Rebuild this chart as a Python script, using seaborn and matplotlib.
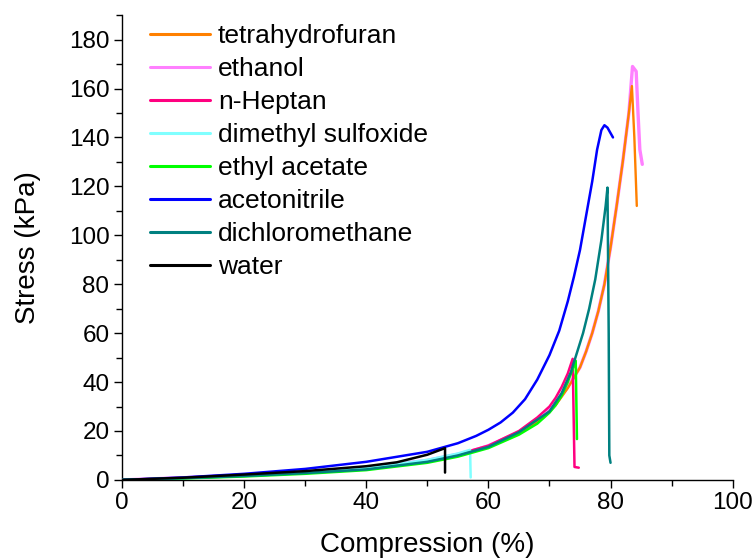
import numpy as np
import pandas as pd
import matplotlib
matplotlib.use("Agg")
import matplotlib.pyplot as plt
import seaborn as sns
from matplotlib.ticker import MultipleLocator

# compression (%) / stress (kPa)
thf_x = [0, 10, 20, 30, 40, 50, 55, 60, 65, 67, 69, 71, 73, 75, 76, 77, 78, 79, 80, 81, 82, 83, 83.5, 83.9, 84.3]
thf_y = [0, 0.8, 1.8, 3.0, 4.5, 7.5, 10, 13.5, 19, 22, 25.5, 30.5, 37.5, 46, 52.5, 60, 69, 80, 95, 112, 130, 150, 161, 140, 112]

eth_x = [0, 10, 20, 30, 40, 50, 55, 57.5, 60, 65, 67, 69, 71, 73, 75, 76, 77, 78, 79, 80, 81, 82, 83, 83.6, 84.2, 84.5, 84.8, 85.2]
eth_y = [0, 0.9, 2.0, 3.3, 5.0, 8.0, 10.5, 12, 14, 19.5, 22.5, 26, 31, 38, 46, 52.5, 60, 69, 80, 95, 112, 130, 150, 169, 167, 150, 135, 129]

hep_x = [0, 10, 20, 30, 40, 50, 55, 60, 65, 68, 70, 71, 72, 73, 73.8, 74.0, 74.1, 74.8]
hep_y = [0, 0.8, 1.8, 3.0, 4.6, 7.8, 10.5, 14, 20, 25.5, 30, 33.5, 38, 43.5, 49.5, 20, 5.3, 5]

dmso_x = [0, 10, 20, 30, 40, 50, 55, 57.0, 57.1]
dmso_y = [0, 0.8, 1.8, 3.1, 4.8, 8.2, 10.8, 12.3, 1]

ea_x = [0, 10, 20, 30, 40, 50, 55, 60, 65, 68, 70, 71, 72, 73, 74.3, 74.5]
ea_y = [0, 0.6, 1.4, 2.5, 4.0, 7.0, 9.5, 13, 18.5, 23, 27.5, 30.5, 34.5, 40, 48.7, 16.7]

acn_x = [0, 10, 20, 30, 40, 50, 55, 58, 60, 62, 64, 66, 68, 70, 71.6, 73, 74, 75, 76, 77, 77.8, 78.5, 79, 79.5, 80.4]
acn_y = [0, 1.0, 2.5, 4.5, 7.4, 11.5, 15, 18, 20.5, 23.5, 27.5, 33, 41, 51, 61, 73, 83, 94, 108, 122, 135, 143, 145, 144, 140]

dcm_x = [0, 10, 20, 30, 40, 50, 55, 60, 65, 70, 72, 73.5, 74.5, 75.5, 76.5, 77.5, 78.5, 79.2, 79.5, 79.7, 79.8, 80.0]
dcm_y = [0, 0.7, 1.6, 2.8, 4.3, 7.4, 10, 13.5, 19.5, 28, 35.5, 44, 52, 60, 70, 82, 98, 112, 119.5, 60, 10, 7]

wat_x = [0, 10, 20, 30, 40, 45, 50, 52.9, 52.9]
wat_y = [0, 0.9, 2.2, 3.6, 5.6, 7.2, 10.3, 13, 3]

labels = ["tetrahydrofuran", "ethanol", "n-Heptan", "dimethyl sulfoxide",
          "ethyl acetate", "acetonitrile", "dichloromethane", "water"]
colors = ["#FF8000", "#FF80FF", "#FF0080", "#80FFFF",
          "#00FF00", "#0000FF", "#008080", "#000000"]
series = [(thf_x, thf_y), (eth_x, eth_y), (hep_x, hep_y), (dmso_x, dmso_y),
          (ea_x, ea_y), (acn_x, acn_y), (dcm_x, dcm_y), (wat_x, wat_y)]
zorders = [3, 2, 4, 5, 6, 7, 8, 9]
widths = [1.7, 2.4, 1.8, 1.8, 1.8, 1.8, 1.8, 1.8]

sns.set_style("ticks")
plt.rcParams["font.family"] = ["Liberation Sans", "DejaVu Sans"]
plt.rcParams["text.color"] = "black"
plt.rcParams["axes.labelcolor"] = "black"

fig = plt.figure(figsize=(7.53, 5.6), dpi=100)
ax = fig.add_axes([0.162, 0.143, 0.811, 0.830])

for (xs, ys), lab, col, z, lw in zip(series, labels, colors, zorders, widths):
    df = pd.DataFrame({"x": xs, "y": ys})
    sns.lineplot(data=df, x="x", y="y", ax=ax, color=col, label=lab,
                 sort=False, estimator=None, linewidth=lw, zorder=z)

ax.set_xlim(0, 100)
ax.set_ylim(0, 190)
ax.xaxis.set_major_locator(MultipleLocator(20))
ax.xaxis.set_minor_locator(MultipleLocator(10))
ax.yaxis.set_minor_locator(MultipleLocator(10))
ax.set_yticks(np.arange(0, 181, 20))
ax.tick_params(axis="both", which="major", direction="out", length=6, width=1,
               labelsize=17.5, color="black", labelcolor="black", pad=3)
ax.tick_params(axis="both", which="minor", direction="out", length=4, width=1,
               color="black")
sns.despine(ax=ax)
for s in ["left", "bottom"]:
    ax.spines[s].set_color("black")
    ax.spines[s].set_linewidth(1)

ax.set_xlabel("Compression (%)", fontsize=20, labelpad=13, color="black")
ax.set_ylabel("Stress (kPa)", fontsize=20, labelpad=20, color="black")

leg = ax.legend(loc="upper left", bbox_to_anchor=(0.046, 0.98), frameon=False,
                fontsize=19, handlelength=2.27, handletextpad=0.3,
                labelspacing=0.34, borderaxespad=0, borderpad=0)
for h in leg.get_lines():
    h.set_linewidth(2.2)
for t in leg.get_texts():
    t.set_color("black")

fig.savefig("out.png", dpi=100)
